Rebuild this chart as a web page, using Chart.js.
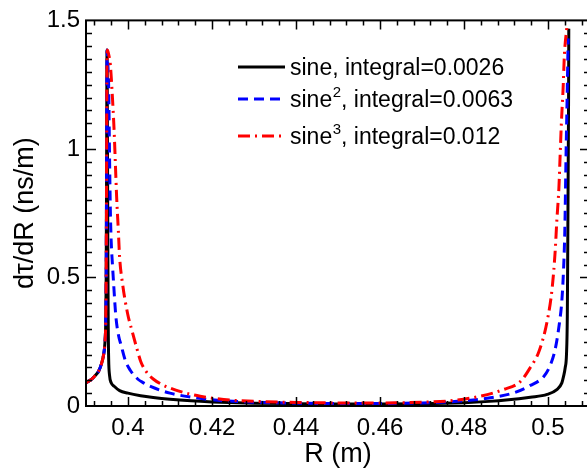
<!DOCTYPE html>
<html>
<head>
<meta charset="utf-8">
<script src="https://cdn.jsdelivr.net/npm/chart.js@4.4.0/dist/chart.umd.min.js"></script>
<style>
  html, body { margin: 0; padding: 0; overflow: hidden; background: #fff; }
  #wrap { position: relative; width: 600px; height: 473px; }
</style>
</head>
<body>
<div id="wrap"><canvas id="chart"></canvas></div>
<script>
// === DATA ===
const xTicks = [0.4, 0.42, 0.44, 0.46, 0.48, 0.5];
const yTicks = [0, 0.5, 1, 1.5];

// legend text: [before superscript, superscript, after]
const legendParts = [
  ["sine", "", ", integral=0.0026"],
  ["sine", "2", ", integral=0.0063"],
  ["sine", "3", ", integral=0.012"]
];

const rBlack = [0.390, 0.391, 0.392, 0.393, 0.3937, 0.3942, 0.3945, 0.3947, 0.3948, 0.3949, 0.39495, 0.3950,
  0.39505, 0.3951, 0.3952, 0.3953, 0.3954, 0.3956, 0.3960, 0.3967, 0.3980, 0.4000, 0.4030, 0.4060,
  0.4100, 0.4150, 0.4200, 0.4300, 0.4400, 0.4500, 0.4600, 0.4700, 0.4800, 0.4860, 0.4900, 0.4958,
  0.4998, 0.5021, 0.5033, 0.5037, 0.5041, 0.5044, 0.5046, 0.5047, 0.5048, 0.5049, 0.50495];
const yBlack = [0.09, 0.10, 0.115, 0.135, 0.165, 0.20, 0.245, 0.33, 0.50, 0.90, 1.20, 1.385,
  1.30, 1.10, 0.60, 0.30, 0.18, 0.12, 0.09, 0.077, 0.06, 0.05, 0.04, 0.033,
  0.026, 0.02, 0.016, 0.011, 0.009, 0.008, 0.008, 0.009, 0.013, 0.018, 0.023, 0.034,
  0.045, 0.064, 0.09, 0.115, 0.15, 0.20, 0.35, 0.6, 0.9, 1.2, 1.468];

const rBlue = [0.390, 0.391, 0.392, 0.393, 0.3937, 0.3942, 0.3945, 0.3947, 0.3948, 0.3949, 0.39495, 0.3950,
  0.3952, 0.3954, 0.3956, 0.3958, 0.3960, 0.3963, 0.3966, 0.3971, 0.3978, 0.3983, 0.3994, 0.4005,
  0.4023, 0.4037, 0.4055, 0.4100, 0.4158, 0.4213, 0.4300, 0.4400, 0.4500, 0.4600, 0.4700, 0.4791,
  0.4863, 0.4918, 0.4958, 0.4990, 0.5005, 0.5017, 0.5027, 0.5033, 0.5037, 0.5040, 0.5043, 0.5046, 0.5048];
const yBlue = [0.09, 0.10, 0.115, 0.135, 0.165, 0.20, 0.245, 0.33, 0.50, 0.90, 1.20, 1.385,
  1.33, 1.24, 0.98, 0.76, 0.64, 0.55, 0.47, 0.35, 0.27, 0.24, 0.175, 0.14,
  0.105, 0.09, 0.075, 0.05, 0.033, 0.022, 0.015, 0.011, 0.010, 0.010, 0.012, 0.019,
  0.032, 0.051, 0.080, 0.115, 0.157, 0.22, 0.32, 0.41, 0.53, 0.68, 0.98, 1.24, 1.43];

const rRed = [0.390, 0.391, 0.392, 0.393, 0.3937, 0.3942, 0.3945, 0.3947, 0.3948, 0.3949, 0.39495, 0.3951,
  0.3955, 0.3958, 0.3963, 0.3967, 0.3970, 0.3973, 0.3977, 0.3980, 0.3987, 0.3999, 0.4010, 0.4020,
  0.4031, 0.4045, 0.4060, 0.4079, 0.4100, 0.4134, 0.4172, 0.4213, 0.4250, 0.4300, 0.4400, 0.4500,
  0.4600, 0.4700, 0.4767, 0.4839, 0.4894, 0.4934, 0.4958, 0.4978, 0.4998, 0.5010, 0.5017, 0.5021,
  0.5026, 0.5029, 0.5032, 0.5036, 0.5039, 0.5045];
const yRed = [0.09, 0.10, 0.115, 0.135, 0.165, 0.20, 0.245, 0.33, 0.50, 0.90, 1.20, 1.385,
  1.36, 1.327, 1.198, 1.069, 0.94, 0.811, 0.682, 0.58, 0.476, 0.36, 0.29, 0.23,
  0.17, 0.13, 0.105, 0.085, 0.07, 0.052, 0.038, 0.028, 0.022, 0.018, 0.014, 0.012,
  0.012, 0.015, 0.02, 0.038, 0.064, 0.095, 0.15, 0.21, 0.33, 0.46, 0.6, 0.72,
  0.85, 0.979, 1.107, 1.236, 1.365, 1.475];

const FONT = '"Liberation Sans", Arial, Helvetica, sans-serif';
const SUP = { "2": "\u00B2", "3": "\u00B3" };

function toPoints(rs, ys) {
  return rs.map((r, i) => ({ x: r, y: ys[i] }));
}

function labelText(p) {
  return p[0] + (SUP[p[1]] || "") + p[2];
}

// === INWARD TICKS ON ALL FOUR SIDES + FRAME ===
const frameTicks = {
  id: "frameTicks",
  afterDatasetsDraw(chart) {
    const { ctx, chartArea: a, scales: { x, y } } = chart;
    ctx.save();
    ctx.strokeStyle = "#000";
    ctx.lineWidth = 1.5;
    ctx.beginPath();
    // x ticks every 0.004, major every 0.02
    for (let i = 98; i <= 127; i++) {
      const px = Math.round(x.getPixelForValue(i * 0.004)) + 0.5;
      const len = i % 5 === 0 ? 9 : 5;
      ctx.moveTo(px, a.bottom); ctx.lineTo(px, a.bottom - len);
      ctx.moveTo(px, a.top); ctx.lineTo(px, a.top + len);
    }
    // y ticks every 0.05, major every 0.5
    for (let i = 1; i < 30; i++) {
      const py = Math.round(y.getPixelForValue(i * 0.05)) + 0.5;
      const len = i % 10 === 0 ? 10 : 6;
      ctx.moveTo(a.left, py); ctx.lineTo(a.left + len, py);
      ctx.moveTo(a.right, py); ctx.lineTo(a.right - len, py);
    }
    ctx.stroke();
    ctx.lineWidth = 2;
    ctx.strokeRect(a.left, a.top, a.right - a.left, a.bottom - a.top);
    ctx.restore();
  }
};

// === LEGEND INSIDE THE PLOT (with real superscripts) ===
const insideLegend = {
  id: "insideLegend",
  afterDraw(chart) {
    const ctx = chart.ctx;
    const rows = [67, 99, 136];
    chart.data.datasets.forEach((ds, i) => {
      const p = legendParts[i];
      ctx.save();
      ctx.strokeStyle = ds.borderColor;
      ctx.lineWidth = ds.borderWidth;
      ctx.setLineDash(ds.borderDash || []);
      ctx.beginPath();
      ctx.moveTo(238, rows[i]);
      ctx.lineTo(285, rows[i]);
      ctx.stroke();
      ctx.setLineDash([]);
      ctx.fillStyle = "#000";
      ctx.textBaseline = "alphabetic";
      const base = rows[i] + 8;
      let x = 290;
      ctx.font = "23px " + FONT;
      ctx.fillText(p[0], x, base);
      x += ctx.measureText(p[0]).width;
      if (p[1]) {
        ctx.font = "15px " + FONT;
        ctx.fillText(p[1], x + 0.5, base - 10);
        x += ctx.measureText(p[1]).width + 0.5;
      }
      ctx.font = "23px " + FONT;
      ctx.fillText(p[2], x, base);
      ctx.restore();
    });
  }
};

new Chart(document.getElementById("chart"), {
  type: "line",
  data: {
    datasets: [
      { label: labelText(legendParts[0]), data: toPoints(rBlack, yBlack), borderColor: "#000000",
        borderWidth: 3, order: 3 },
      { label: labelText(legendParts[1]), data: toPoints(rBlue, yBlue), borderColor: "#0000ff",
        borderWidth: 3, borderDash: [10, 6], order: 2 },
      { label: labelText(legendParts[2]), data: toPoints(rRed, yRed), borderColor: "#ff0000",
        borderWidth: 3, borderDash: [12, 5, 2, 5], order: 1 }
    ]
  },
  options: {
    responsive: true,
    maintainAspectRatio: false,
    animation: false,
    layout: { padding: { top: 18, right: 10, left: 0, bottom: 0 } },
    elements: {
      point: { radius: 0 },
      line: { cubicInterpolationMode: "monotone", fill: false }
    },
    plugins: { legend: { display: false }, tooltip: { enabled: false } },
    scales: {
      x: {
        type: "linear",
        min: 0.39,
        max: 0.51,
        grid: { display: false, drawTicks: false },
        border: { display: false },
        afterBuildTicks: s => { s.ticks = xTicks.map(v => ({ value: v })); },
        afterFit: s => { s.height = 67; },
        ticks: { padding: 8, color: "#000", autoSkip: false, maxRotation: 0,
          font: { family: FONT, size: 24 }, callback: v => String(v) },
        title: { display: true, text: "R (m)", color: "#000",
          font: { family: FONT, size: 27 }, padding: { top: 0, bottom: 2 } }
      },
      y: {
        type: "linear",
        min: 0,
        max: 1.5,
        grid: { display: false, drawTicks: false },
        border: { display: false },
        afterBuildTicks: s => { s.ticks = yTicks.map(v => ({ value: v })); },
        afterFit: s => { s.width = 86; },
        ticks: { padding: 6, color: "#000", autoSkip: false,
          font: { family: FONT, size: 24 }, callback: v => String(v) },
        title: { display: true, text: "d\u03C4/dR (ns/m)", color: "#000",
          font: { family: FONT, size: 27 }, padding: { top: 9, bottom: 0 } }
      }
    }
  },
  plugins: [frameTicks, insideLegend]
});
</script>
</body>
</html>
